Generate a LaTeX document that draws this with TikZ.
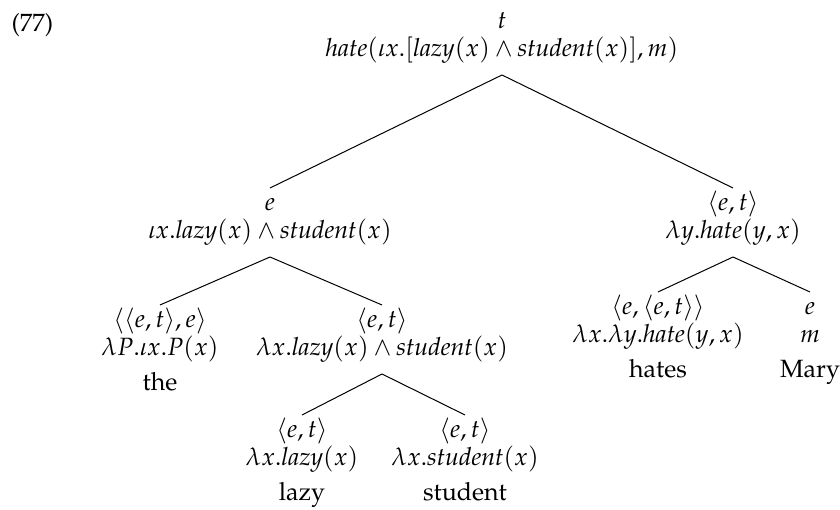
\documentclass[tikz,border=0pt]{standalone}
\usepackage[T1]{fontenc}
\usepackage{mathpazo}
\usepackage{amsmath,amssymb}
\usepackage{tikz}

% struts that fix where the branches meet the text
\newcommand{\topstr}{\rule{0pt}{9pt}}
\newcommand{\botstr}{\rule[-7pt]{0pt}{7pt}}
\newcommand{\tlines}[1]{\begin{tabular}{@{}c@{}}\topstr#1\botstr\end{tabular}}

\begin{document}
\begin{tikzpicture}[
    x=0.4pt, y=-0.4pt,
    tnode/.style={anchor=north, inner sep=0pt,
        font=\fontsize{10}{11.2}\selectfont}
]
\useasboundingbox (0,0) rectangle (840,510);

\node[anchor=base west, inner sep=0pt, font=\fontsize{10}{11.2}\selectfont] (exnum) at (11,32) {(77)};

\node[tnode] (top)  at (502,6)   {\tlines{$t$\\ $\mathit{hate}(\iota x.[\mathit{lazy}(x)\wedge\mathit{student}(x)],m)$}};
\node[tnode] (subj) at (270,188) {\tlines{$e$\\ $\iota x.\mathit{lazy}(x)\wedge\mathit{student}(x)$}};
\node[tnode] (vp)   at (733,188) {\tlines{$\langle e,t\rangle$\\ $\lambda y.\mathit{hate}(y,x)$}};

\node[tnode] (det)  at (160,305) {\tlines{$\langle\langle e,t\rangle,e\rangle$\\ $\lambda P.\iota x.P(x)$\\[2.5pt] the}};
\node[tnode] (nbar) at (382,305) {\tlines{$\langle e,t\rangle$\\ $\lambda x.\mathit{lazy}(x)\wedge\mathit{student}(x)$}};
\node[tnode] (adj)  at (302,415) {\tlines{$\langle e,t\rangle$\\ $\lambda x.\mathit{lazy}(x)$\\[2.5pt] lazy}};
\node[tnode] (noun) at (465,415) {\tlines{$\langle e,t\rangle$\\ $\lambda x.\mathit{student}(x)$\\[2.5pt] student}};

\node[tnode] (verb) at (658,292) {\tlines{$\langle e,\langle e,t\rangle\rangle$\\ $\lambda x.\lambda y.\mathit{hate}(y,x)$\\[2.5pt] hates}};
\node[tnode] (obj)  at (810,292) {\tlines{$e$\\ $m$\\[2.5pt] Mary}};

% branches
\draw (top.south)  -- (subj.north);
\draw (top.south)  -- (vp.north);
\draw (subj.south) -- (det.north);
\draw (subj.south) -- (nbar.north);
\draw (nbar.south) -- (adj.north);
\draw (nbar.south) -- (noun.north);
\draw (vp.south)   -- (verb.north);
\draw (vp.south)   -- (obj.north);
\end{tikzpicture}
\end{document}
